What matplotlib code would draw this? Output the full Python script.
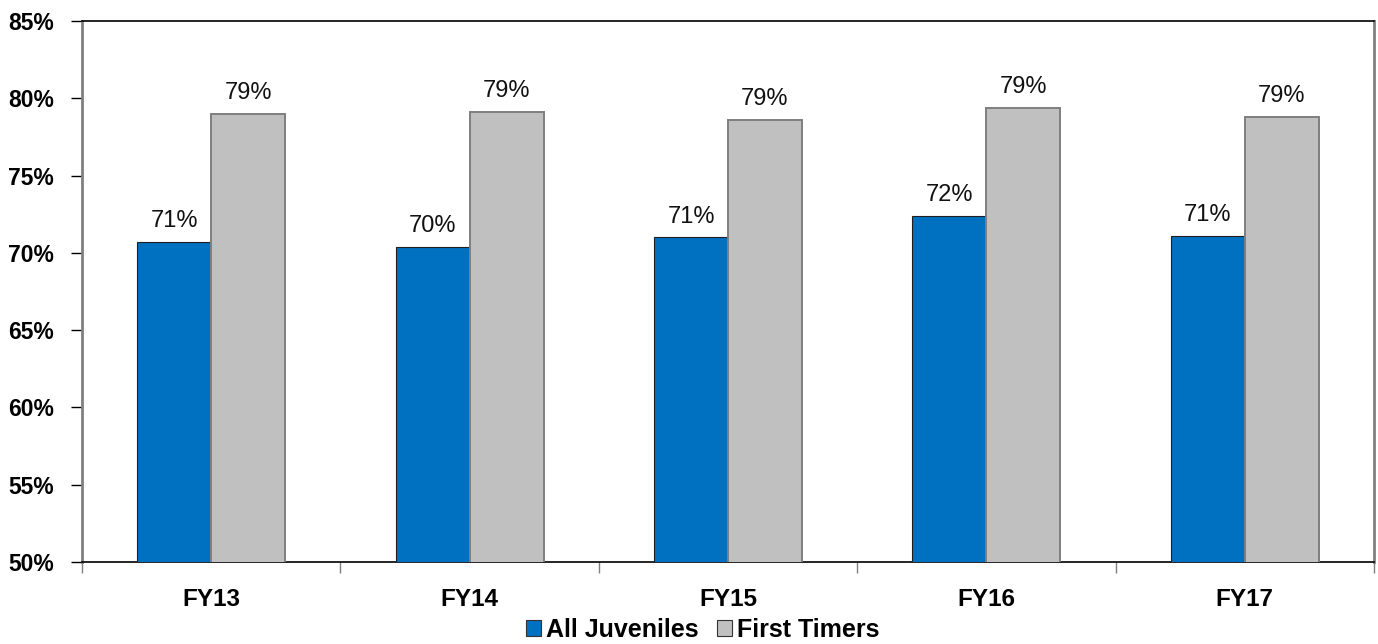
import matplotlib
matplotlib.use("Agg")
import matplotlib.pyplot as plt
import numpy as np
from matplotlib.ticker import FixedLocator, NullFormatter

plt.rcParams['font.family'] = ['Liberation Sans', 'DejaVu Sans']

categories = ["FY13", "FY14", "FY15", "FY16", "FY17"]
all_juveniles = [70.7, 70.4, 71.0, 72.4, 71.1]
first_timers = [79.0, 79.1, 78.6, 79.4, 78.8]
series_names = ["All Juveniles", "First Timers"]
y_ticks = [50, 55, 60, 65, 70, 75, 80, 85]

blue = "#0070C0"
grey = "#C0C0C0"

fig = plt.figure(figsize=(13.78, 6.44), dpi=100)
ax = fig.add_axes([82 / 1378, 1 - 562 / 644, (1374 - 82) / 1378, (562 - 21) / 644])

x = np.arange(len(categories))
w = 0.286
b1 = ax.bar(x - w / 2, all_juveniles, w, color=blue, edgecolor="#1f1f1f", linewidth=0.8,
            label=series_names[0], zorder=3)
b2 = ax.bar(x + w / 2, first_timers, w, color=grey, edgecolor="#7f7f7f", linewidth=1.4,
            label=series_names[1], zorder=3)

for xs, vals in ((x - w / 2, all_juveniles), (x + w / 2, first_timers)):
    for xi, v in zip(xs, vals):
        ax.annotate(f"{v:.0f}%", (xi, v), xytext=(0, 7), textcoords="offset points",
                    ha="center", va="bottom", fontsize=17, color="#111111")

ax.set_ylim(50, 85)
ax.set_xlim(-0.5, len(categories) - 0.5)
ax.set_yticks(y_ticks)
ax.set_yticklabels([f"{t}%" for t in y_ticks], fontsize=16.5, fontweight="bold")
ax.tick_params(axis="y", length=8, width=1, color="black", pad=12)

ax.set_xticks(x)
ax.set_xticklabels(categories, fontsize=17.5, fontweight="bold")
ax.xaxis.set_minor_locator(FixedLocator(np.arange(-0.5, len(categories), 1.0)))
ax.xaxis.set_minor_formatter(NullFormatter())
ax.tick_params(axis="x", which="major", length=0, pad=19)
ax.tick_params(axis="x", which="minor", length=8, width=1, color="#808080")

for side in ("top", "bottom"):
    ax.spines[side].set_color("black")
    ax.spines[side].set_linewidth(1.2)
for side in ("left", "right"):
    ax.spines[side].set_color("#808080")
    ax.spines[side].set_linewidth(2)

leg = fig.legend(handles=[b1, b2], labels=series_names, loc="center",
                 bbox_to_anchor=(703 / 1378, 1 - 630 / 644), ncol=2, frameon=False,
                 prop={"size": 18, "weight": "bold"}, handlelength=0.6, handleheight=0.6,
                 handletextpad=0.2, columnspacing=0.75)
for h in leg.legend_handles:
    h.set_edgecolor("#333333")
    h.set_linewidth(0.8)

fig.savefig("out.png", dpi=100)
